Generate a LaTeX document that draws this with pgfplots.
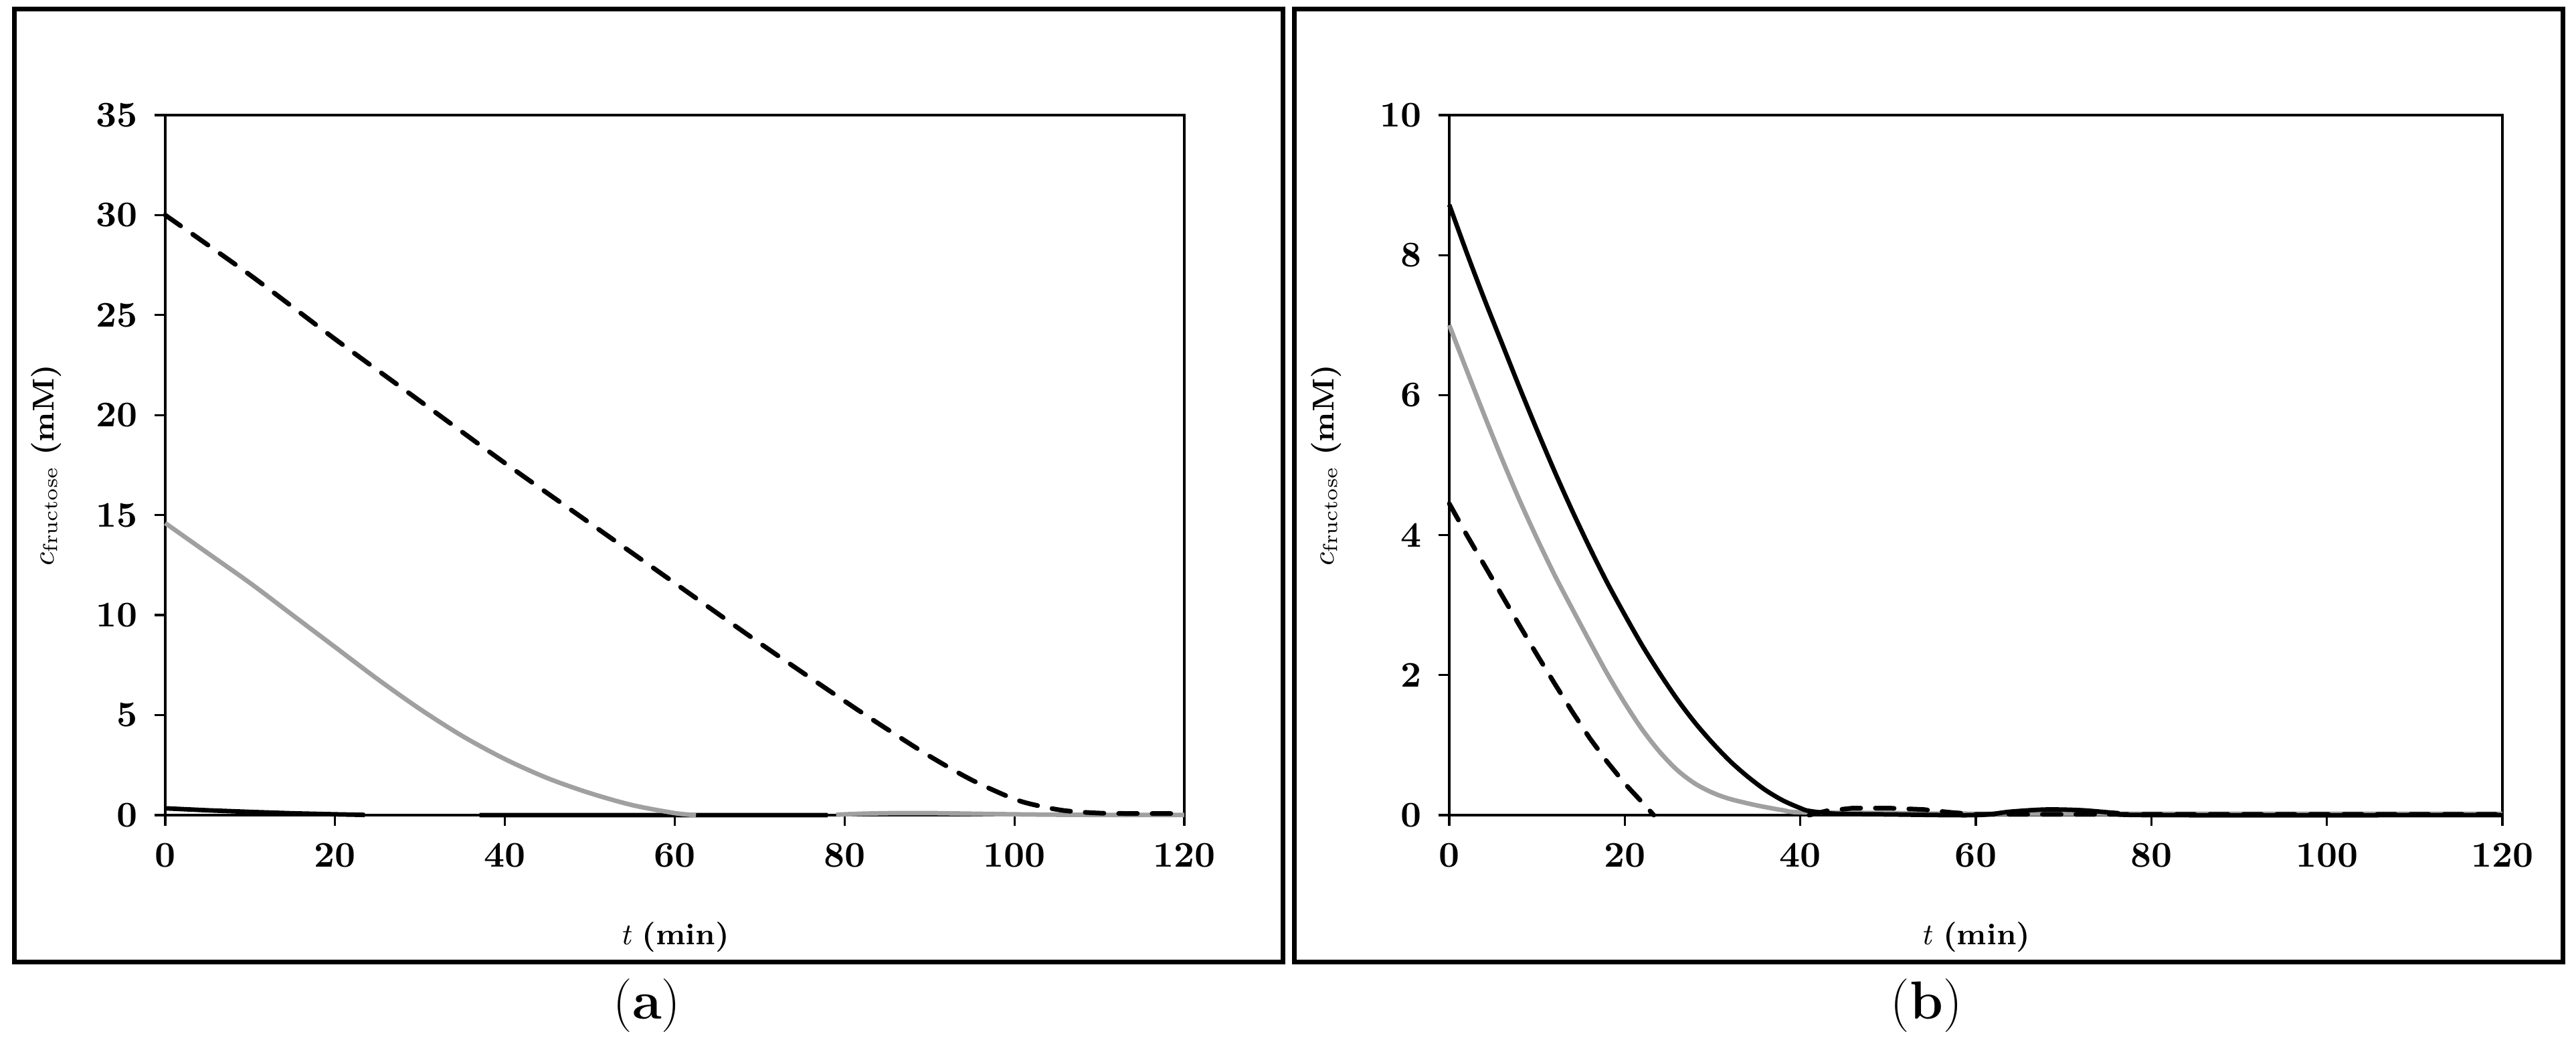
\documentclass[border=0pt]{standalone}
\usepackage{pgfplots}
\pgfplotsset{compat=1.18}
\definecolor{Gry}{HTML}{A0A0A0}

% 1 px of the reference = 0.2pt
\pgfplotsset{
  fruc/.style={
    scale only axis, clip=false,
    xmin=0, xmax=120, ymin=0,
    xtick={0,20,...,120},
    tick align=outside, xtick pos=bottom, ytick pos=left,
    major tick length=3.2pt,
    axis line style={line width=0.65pt},
    every tick/.style={black,line width=0.65pt},
    /pgf/number format/assume math mode=true,
    tick label style={font=\fontsize{10.8}{12}\selectfont\bfseries},
    xticklabel style={yshift=-1.6pt},
    yticklabel style={xshift=-1.6pt},
    label style={font=\fontsize{9}{11}\selectfont},
    xlabel={\textit{t} \textbf{(min)}},
    ylabel={$c_{\mathrm{fructose}}$ \textbf{(mM)}},
    xlabel style={at={(axis description cs:0.5,-0.174)},anchor=center},
    ylabel style={at={(axis description cs:-0.117,0.5)},anchor=center},
    unbounded coords=jump,
  },
  blk/.style={black, line width=1.35pt, line join=round},
  gry/.style={Gry, line width=1.35pt, line join=round},
  dsh/.style={black, line width=1.4pt, line cap=round, dash pattern=on 5.6pt off 4.4pt},
}

\begin{document}
\begin{tikzpicture}
\useasboundingbox (0,0) rectangle (770pt,312pt);
\draw[line width=1.4pt] (4.2pt,24.4pt) rectangle (383.4pt,309.2pt);
\draw[line width=1.4pt] (386.8pt,24.4pt) rectangle (766pt,309.2pt);

\begin{axis}[fruc, at={(49.4pt,68.4pt)}, anchor=south west,
  width=304.6pt, height=209.2pt, ymax=35, ytick={0,5,...,35}]
  \addplot[blk] coordinates {
    (0,0.34) (5,0.24) (10,0.16) (15,0.09) (20,0.04) (23.5,0.01)
    (30,nan) (37,0) (78,0)
  };
  \addplot[gry, smooth] coordinates {
    (0,14.6) (5,13.1) (10,11.6) (15,10.0) (20,8.4) (25,6.8) (30,5.3)
    (35,3.95) (40,2.8) (45,1.85) (50,1.1) (55,0.5) (60,0.1) (62.5,0)
    (70,nan) (79,0.02) (82,0.07) (86,0.1) (90,0.1) (95,0.07) (100,0.04)
    (105,0.02) (110,0.01) (120,0.01)
  };
  \addplot[dsh, smooth] coordinates {
    (0,30) (10,27.0) (20,23.8) (30,20.7) (40,17.6) (50,14.6) (60,11.6)
    (70,8.6) (80,5.7) (85,4.3) (90,2.95) (95,1.75) (100,0.8) (103,0.45)
    (106,0.22) (110,0.1) (115,0.08) (120,0.08)
  };
\end{axis}

\begin{axis}[fruc, at={(433.2pt,68.4pt)}, anchor=south west,
  width=314.8pt, height=209.2pt, ymax=10, ytick={0,2,...,10}]
  \addplot[gry, smooth] coordinates {
    (0,7.0) (2,6.35) (4,5.71) (6,5.09) (8,4.5) (10,3.95) (12,3.43)
    (14,2.95) (16,2.48) (18,2.02) (20,1.6) (22,1.22) (24,0.9) (26,0.64)
    (28,0.45) (30,0.32) (32,0.23) (35,0.14) (38,0.07) (40,0.04) (50,0.03)
    (60,0.02) (120,0.02)
  };
  \addplot[blk, smooth] coordinates {
    (0,8.72) (2,8.03) (4,7.37) (6,6.74) (8,6.11) (10,5.5) (12,4.91)
    (14,4.35) (16,3.82) (18,3.32) (20,2.86) (22,2.42) (24,2.02) (26,1.65)
    (28,1.32) (30,1.03) (32,0.77) (34,0.55) (36,0.36) (38,0.21) (40,0.1)
    (41,0.06) (44,0.02) (50,0.01) (60,0.0) (64,0.05) (68,0.08) (72,0.07)
    (76,0.03) (80,0.0) (120,0.0)
  };
  \addplot[dsh] coordinates {
    (0,4.45) (2,4.0) (4,3.57) (6,3.14) (8,2.71) (10,2.29) (12,1.88)
    (14,1.48) (16,1.1) (18,0.76) (20,0.45) (22,0.18) (23.3,0.0)
    (30,nan) (41,0.0) (43,0.06) (46,0.1) (50,0.1) (54,0.08) (57,0.04)
    (60,0.01) (70,0.01) (120,0.01)
  };
\end{axis}

\node[font=\fontsize{16}{18}\selectfont] at (193.4pt,11.4pt) {(\textbf{a})};
\node[font=\fontsize{16}{18}\selectfont] at (575.8pt,11.4pt) {(\textbf{b})};
\end{tikzpicture}
\end{document}
